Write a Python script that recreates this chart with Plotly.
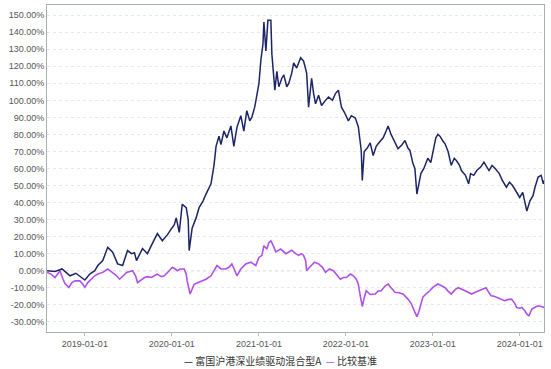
import numpy as np
import pandas as pd
import plotly.graph_objects as go

# ---- data (cumulative return, %), time as decimal years ----
fund_t = [2018.566, 2018.657, 2018.737, 2018.829, 2018.897, 2018.966, 2019.000, 2019.057, 2019.114, 2019.149,
          2019.206, 2019.263, 2019.297, 2019.320, 2019.377, 2019.434, 2019.491, 2019.537, 2019.571, 2019.594,
          2019.663, 2019.720, 2019.777, 2019.834, 2019.891, 2019.949, 2019.994, 2020.029, 2020.051, 2020.074,
          2020.086, 2020.120, 2020.166, 2020.189, 2020.200, 2020.234, 2020.280, 2020.314, 2020.360, 2020.394,
          2020.451, 2020.486, 2020.509, 2020.543, 2020.566, 2020.600, 2020.634, 2020.680, 2020.714, 2020.749,
          2020.794, 2020.829, 2020.863, 2020.897, 2020.920, 2020.954, 2020.977, 2021.000, 2021.023, 2021.046,
          2021.057, 2021.080, 2021.103, 2021.137, 2021.149, 2021.183, 2021.206, 2021.229, 2021.263, 2021.286,
          2021.320, 2021.343, 2021.377, 2021.400, 2021.434, 2021.480, 2021.514, 2021.549, 2021.571, 2021.606,
          2021.629, 2021.651, 2021.686, 2021.720, 2021.766, 2021.800, 2021.846, 2021.880, 2021.914, 2021.949,
          2021.983, 2022.029, 2022.063, 2022.109, 2022.143, 2022.166, 2022.177, 2022.189, 2022.211, 2022.246,
          2022.280, 2022.314, 2022.349, 2022.371, 2022.429, 2022.463, 2022.486, 2022.520, 2022.543, 2022.577,
          2022.600, 2022.646, 2022.680, 2022.714, 2022.737, 2022.771, 2022.794, 2022.817, 2022.840, 2022.863,
          2022.897, 2022.943, 2022.977, 2023.012, 2023.035, 2023.059, 2023.082, 2023.118, 2023.141, 2023.176,
          2023.212, 2023.247, 2023.271, 2023.306, 2023.329, 2023.376, 2023.412, 2023.435, 2023.471, 2023.506,
          2023.553, 2023.588, 2023.624, 2023.647, 2023.682, 2023.718, 2023.765, 2023.800, 2023.847, 2023.882,
          2023.918, 2023.965, 2024.000, 2024.035, 2024.059, 2024.082, 2024.118, 2024.153, 2024.176, 2024.212,
          2024.247, 2024.271, 2024.282]
fund_v = [0, -0.5, 1, -3, -1.5, -4, -5.5, -2, 0, 3,
          6, 13.7, 12, 10.8, 4, 3, 11.8, 10, 10.5, 5.9,
          13, 10, 16, 21.8, 17.6, 21, 24.5, 27, 31, 26,
          22.5, 39, 37, 30, 11.8, 25, 31, 37, 41, 45,
          51, 62, 73, 79, 74, 82, 78, 85, 73, 84,
          91, 82, 94, 88, 90, 96, 102, 110, 124, 133,
          146, 129, 147, 147, 127, 106, 117, 108, 113, 115,
          108, 110, 116, 122, 119, 125, 123, 116, 96, 113,
          104, 98, 103, 97, 100, 102, 100, 104, 106, 96,
          93, 88, 91, 89.6, 84.5, 75, 70.6, 53, 70, 72,
          75, 67.6, 73, 74.5, 78, 82, 85, 80, 77.6, 74,
          71.6, 74, 76.5, 72, 70.6, 63, 60, 45, 52, 57,
          60, 66, 63.5, 72, 78, 80, 79, 76, 74.5, 70,
          61.8, 66, 64.7, 62, 58.8, 56, 51, 57, 56, 58.8,
          61, 63.7, 61, 58.8, 61.8, 60, 57, 53, 49, 52,
          50, 46, 43, 46, 41, 35, 41, 44, 49, 55,
          56, 51, 53]

bench_t = [2018.566, 2018.611, 2018.657, 2018.714, 2018.749, 2018.771, 2018.817, 2018.851, 2018.886, 2018.943,
           2018.977, 2019.000, 2019.034, 2019.080, 2019.114, 2019.149, 2019.206, 2019.263, 2019.320, 2019.366,
           2019.400, 2019.446, 2019.480, 2019.549, 2019.583, 2019.606, 2019.651, 2019.686, 2019.720, 2019.766,
           2019.800, 2019.834, 2019.880, 2019.914, 2019.971, 2020.006, 2020.040, 2020.063, 2020.097, 2020.120,
           2020.143, 2020.166, 2020.177, 2020.211, 2020.234, 2020.257, 2020.303, 2020.349, 2020.394, 2020.451,
           2020.486, 2020.520, 2020.566, 2020.623, 2020.657, 2020.691, 2020.726, 2020.749, 2020.794, 2020.851,
           2020.909, 2020.966, 2021.000, 2021.034, 2021.057, 2021.091, 2021.114, 2021.137, 2021.171, 2021.194,
           2021.251, 2021.309, 2021.343, 2021.377, 2021.423, 2021.457, 2021.491, 2021.514, 2021.537, 2021.549,
           2021.583, 2021.606, 2021.640, 2021.686, 2021.731, 2021.766, 2021.811, 2021.857, 2021.891, 2021.937,
           2021.971, 2022.006, 2022.051, 2022.086, 2022.120, 2022.143, 2022.166, 2022.189, 2022.211, 2022.234,
           2022.280, 2022.337, 2022.371, 2022.406, 2022.451, 2022.486, 2022.520, 2022.566, 2022.611, 2022.657,
           2022.714, 2022.749, 2022.771, 2022.806, 2022.817, 2022.840, 2022.863, 2022.886, 2022.920, 2022.966,
           2023.000, 2023.059, 2023.106, 2023.141, 2023.176, 2023.212, 2023.259, 2023.294, 2023.341, 2023.376,
           2023.412, 2023.447, 2023.494, 2023.529, 2023.576, 2023.612, 2023.647, 2023.671, 2023.706, 2023.741,
           2023.788, 2023.824, 2023.859, 2023.906, 2023.941, 2023.965, 2024.000, 2024.024, 2024.059, 2024.082,
           2024.106, 2024.141, 2024.176, 2024.212, 2024.247, 2024.282]
bench_v = [-1, -2, -4, 0, -5, -7.6, -9.8, -7, -6, -6,
           -8, -9.8, -7, -4.9, -3, -2, -1, 1, -1, -3,
           -5, -3, -1, 0, -3, -7, -5, -4, -3.5, -4,
           -3, -2, -3.5, -3, 0, 2, 1, 0, 1, 1,
           1, -2, -6, -13.7, -11, -8, -7, -6, -5, -3,
           0, 3, 1, 1, 2, 4, 0, -3, 1, 4,
           5, 3, 7.8, 9, 14.7, 12.7, 16.5, 17.6, 14, 11,
           12.7, 10, 11, 12, 10, 9, 10, 9, 6, 0,
           2, 3, 5, 4, 2, -1, 1, 0, -2, -5,
           -4, -4, -2, -3, -5, -7.8, -15, -21, -16, -11.8,
           -14, -13.7, -12, -11.8, -9, -7.8, -10, -12.7, -13, -13.7,
           -16.7, -19, -21.6, -25.5, -27, -24, -19.6, -15.5, -13.7, -11.8,
           -9.8, -7.8, -9, -10, -12, -13.7, -11, -10, -11, -11.8,
           -12.5, -13.7, -12.5, -11.8, -11, -10, -13, -14.7, -15, -15.7,
           -16.5, -17.6, -17, -16.7, -19, -21.6, -22, -21.6, -23.5, -25.5,
           -26.5, -22.5, -21.5, -20.6, -21, -21.6]

y_ticks = [-30, -20, -10, 0, 10, 20, 30, 40, 50, 60, 70, 80, 90, 100, 110, 120, 130, 140, 150]
x_ticks = ["2019-01-01", "2020-01-01", "2021-01-01", "2022-01-01", "2023-01-01", "2024-01-01"]

fund_name = "富国沪港深业绩驱动混合型A"
bench_name = "比较基准"
fund_color = "#1d2565"
bench_color = "#b050e8"


def to_dates(ts):
    out = []
    for t in ts:
        y = int(np.floor(t))
        out.append(pd.Timestamp(year=y, month=1, day=1) + pd.Timedelta(days=(t - y) * 365.0))
    return out


fig = go.Figure()
fig.add_trace(go.Scatter(x=to_dates(bench_t), y=bench_v, mode="lines", name=bench_name,
                         line=dict(color=bench_color, width=1.6)))
fig.add_trace(go.Scatter(x=to_dates(fund_t), y=fund_v, mode="lines", name=fund_name,
                         line=dict(color=fund_color, width=1.5)))

tick_font = dict(family="Liberation Sans, Arial, sans-serif", size=9, color="#555")

fig.update_layout(
    width=551, height=369,
    margin=dict(l=47, r=7, t=5, b=37),
    paper_bgcolor="white", plot_bgcolor="white",
    showlegend=False,
    xaxis=dict(
        range=[pd.Timestamp("2018-07-26"), pd.Timestamp("2024-04-12")],
        tickvals=x_ticks, ticktext=x_ticks,
        tickfont=tick_font,
        showgrid=False, zeroline=False,
        showline=True, linecolor="#a9b0b0", linewidth=1, mirror=True,
        ticks="outside", ticklen=3, tickcolor="#bbb",
    ),
    yaxis=dict(
        range=[-36, 156],
        tickvals=y_ticks, ticktext=[f"{v:.2f}%" for v in y_ticks],
        tickfont=tick_font,
        showgrid=True, gridcolor="#e6e9ea", griddash="dot", gridwidth=1,
        zeroline=False,
        showline=True, linecolor="#a9b0b0", linewidth=1, mirror=True,
        ticks="",
    ),
    annotations=[dict(
        xref="paper", yref="paper", x=0.47, y=-0.088, xanchor="center", yanchor="middle",
        showarrow=False,
        text=(f"<span style='color:{fund_color}'>—</span> {fund_name}  "
              f"<span style='color:{bench_color}'>—</span> {bench_name}"),
        font=dict(family="Noto Sans CJK SC", size=10, color="#333"),
    )],
    shapes=[dict(type="line", xref="paper", yref="y", x0=0, x1=1, y0=0, y1=0,
                 line=dict(color="#aaaaaa", width=1, dash="dot"), layer="below")],
)

fig.write_html("out.html", config={"displayModeBar": False},
               post_script="document.body.style.margin='0';document.body.style.padding='0';")
